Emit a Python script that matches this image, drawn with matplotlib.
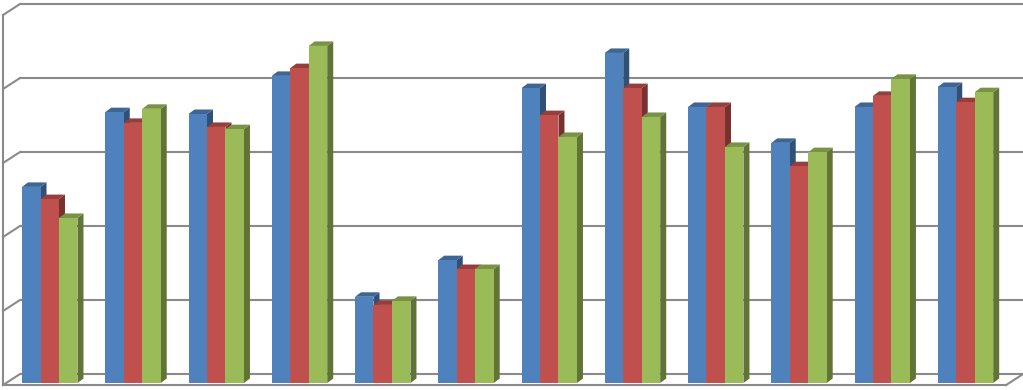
import numpy as np
import matplotlib
matplotlib.use("Agg")
import matplotlib.pyplot as plt
from matplotlib.patches import Polygon
from matplotlib.transforms import offset_copy, IdentityTransform
from matplotlib.colors import to_rgb

# values (back wall grid every 20)
categories = list(range(12))
series_blue = [53.0, 73.2, 72.7, 83.0, 23.3, 33.2, 79.7, 89.2, 74.6, 64.9, 74.6, 80.0]
series_red = [49.7, 70.3, 69.2, 85.1, 21.1, 30.8, 72.4, 79.7, 74.6, 58.6, 77.6, 75.9]
series_green = [44.6, 74.1, 68.6, 91.1, 22.2, 30.8, 66.5, 71.9, 63.8, 62.4, 82.2, 78.6]
grid_values = [0, 20, 40, 60, 80, 100]

colors = ["#4F81BD", "#C0504D", "#9BBB59"]
line_col = "#8a8a8a"


def shade(c, f):
    r, g, b = to_rgb(c)
    return (r * f, g * f, b * f)


fig = plt.figure(figsize=(10.23, 3.90), dpi=100)
ax = fig.add_axes([0, 0, 1, 1])
ax.set_axis_off()
ax.set_xlim(-0.5976, 11.691)
ax.set_ylim(-1.892, 103.51)

x = np.arange(len(categories))
xl, xr = x[0] - 0.525, x[-1] + 0.525

# depth planes, as pixel offsets from the plane of the bars
front_tr = offset_copy(ax.transData, fig=fig, x=-3, y=-2, units="dots")
back_tr = offset_copy(ax.transData, fig=fig, x=14, y=9, units="dots")
ident = IdentityTransform()

# back wall gridlines
for v in grid_values:
    ax.plot([xl, xr], [v, v], transform=back_tr, color=line_col, lw=1.5, zorder=0,
            solid_capstyle="butt")
    # side wall diagonals
    p1 = front_tr.transform((xl, v))
    p2 = back_tr.transform((xl, v))
    ax.plot([p1[0], p2[0]], [p1[1], p2[1]], transform=ident, color=line_col, lw=1.5, zorder=0)

# left edge and floor
ax.plot([xl, xl], [0, 100], transform=front_tr, color=line_col, lw=1.5, zorder=0)
ax.plot([xl, xr], [0, 0], transform=front_tr, color=line_col, lw=1.5, zorder=0)
p1 = front_tr.transform((xr, 0))
p2 = back_tr.transform((xr, 0))
ax.plot([p1[0], p2[0]], [p1[1], p2[1]], transform=ident, color=line_col, lw=1.5, zorder=0)

# 3d-ish bars
w = 0.222
ddx, ddy = 6, 4.5
k = 0
for i in x:
    for j, vals in enumerate([series_blue, series_red, series_green]):
        c = i + (j - 1) * w
        v = vals[i]
        z = 2 + k * 0.01
        k += 1
        col = colors[j]
        ax.bar(c, v, w, bottom=0, color=col, linewidth=0, zorder=z + 0.005)
        tl = ax.transData.transform((c - w / 2, v))
        tr = ax.transData.transform((c + w / 2, v))
        br = ax.transData.transform((c + w / 2, 0))
        top = [tl, tr, (tr[0] + ddx, tr[1] + ddy), (tl[0] + ddx, tl[1] + ddy)]
        side = [br, tr, (tr[0] + ddx, tr[1] + ddy), (br[0] + ddx, br[1] + ddy)]
        ax.add_patch(Polygon(side, closed=True, transform=ident, facecolor=shade(col, 0.62),
                             edgecolor="none", zorder=z))
        ax.add_patch(Polygon(top, closed=True, transform=ident, facecolor=shade(col, 0.78),
                             edgecolor="none", zorder=z))

fig.savefig("out.png", dpi=100, facecolor="white")
